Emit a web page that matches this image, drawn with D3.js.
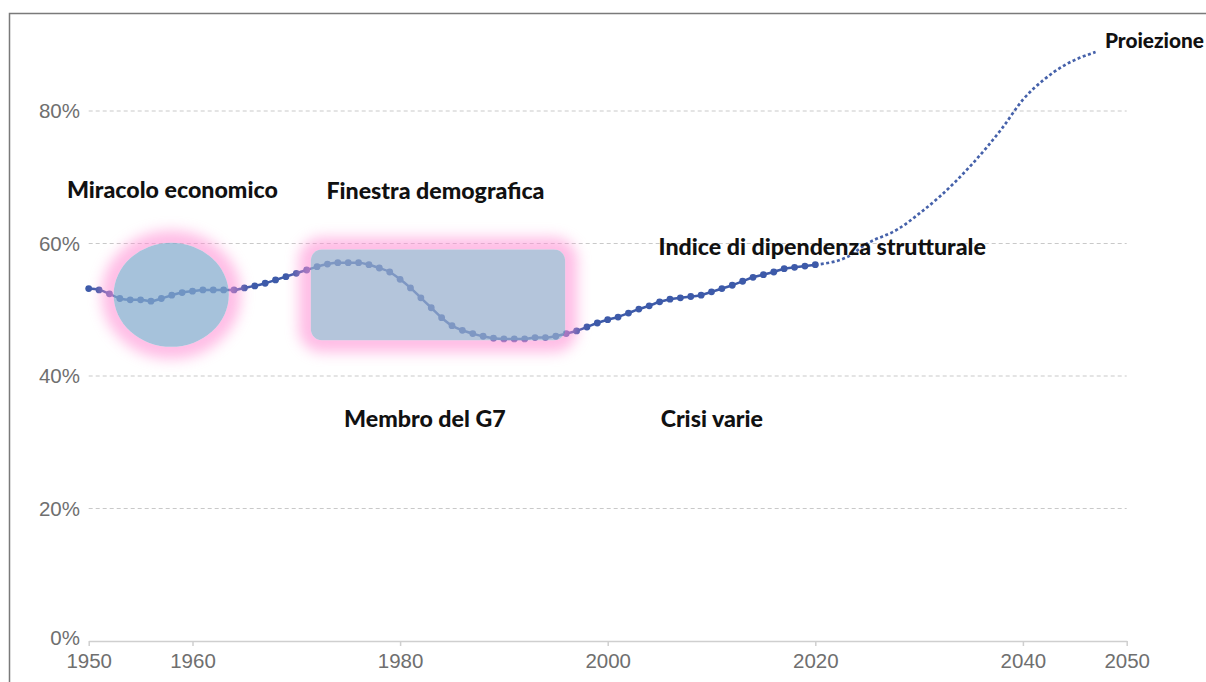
<!DOCTYPE html>
<html>
<head>
<meta charset="utf-8">
<script src="https://cdn.jsdelivr.net/npm/d3@7"></script>
<style>
  body { margin: 0; background: #fff; }
  svg { display: block; }
  .tick-label { font-family: "Liberation Sans", Arial, sans-serif; font-size: 20.5px; fill: #6f6f6f; }
  .note { font-family: Lato, "Open Sans", sans-serif; font-weight: 900; fill: #111; }
</style>
</head>
<body>
<div id="chart"></div>
<script>
// observed series, one value per year (percent)
var years = [1950, 1951, 1952, 1953, 1954, 1955, 1956, 1957, 1958, 1959,
        1960, 1961, 1962, 1963, 1964, 1965, 1966, 1967, 1968, 1969,
        1970, 1971, 1972, 1973, 1974, 1975, 1976, 1977, 1978, 1979,
        1980, 1981, 1982, 1983, 1984, 1985, 1986, 1987, 1988, 1989,
        1990, 1991, 1992, 1993, 1994, 1995, 1996, 1997, 1998, 1999,
        2000, 2001, 2002, 2003, 2004, 2005, 2006, 2007, 2008, 2009,
        2010, 2011, 2012, 2013, 2014, 2015, 2016, 2017, 2018, 2019, 2020];
var values = [53.2, 53.0, 52.4, 51.7, 51.5, 51.5, 51.3, 51.7, 52.2, 52.6,
        52.8, 53.0, 53.0, 53.0, 53.0, 53.3, 53.6, 54.0, 54.5, 55.0,
        55.5, 56.0, 56.5, 56.9, 57.1, 57.1, 57.1, 56.8, 56.3, 55.7,
        54.6, 53.3, 51.8, 50.3, 48.8, 47.6, 46.9, 46.4, 46.0, 45.7,
        45.6, 45.6, 45.6, 45.8, 45.8, 46.0, 46.4, 46.8, 47.4, 48.0,
        48.5, 48.9, 49.5, 50.1, 50.6, 51.2, 51.6, 51.8, 52.0, 52.2,
        52.7, 53.2, 53.7, 54.3, 54.9, 55.3, 55.7, 56.2, 56.4, 56.6, 56.8];

// projection (dotted)
var projYears = [2020, 2023, 2025, 2028, 2030, 2032, 2035, 2038, 2040, 2042, 2044, 2047];
var projValues = [56.8, 57.9, 60.0, 62.2, 64.5, 67.1, 71.8, 77.4, 81.7, 84.7, 86.9, 88.9];

// axis ticks
var xTicks = [1950, 1960, 1980, 2000, 2020, 2040, 2050];
var yTicks = [0, 20, 40, 60, 80];

// highlighted periods (years / percent extents)
var highlightNames = ['circle', 'rect'];
var highlightYears = [[1952.4, 1963.5], [1971.4, 1995.9]];
var highlightValues = [[44.4, 60.1], [45.4, 59.1]];

// annotations (anchor in years / percent)
var noteTexts = ['Miracolo economico', 'Finestra demografica', 'Indice di dipendenza strutturale',
        'Membro del G7', 'Crisi varie', 'Proiezione'];
var noteYears = [1947.9, 1972.9, 2004.9, 1974.6, 2005.1, 2047.9];
var noteValues = [66.8, 66.7, 58.3, 32.3, 32.3, 89.5];

var width = 1206, height = 682;
var svg = d3.select('#chart').append('svg')
        .attr('width', width)
        .attr('height', height);

var xscale = d3.scaleLinear().domain([1950, 2050]).range([88.7, 1126.7]);
var yscale = d3.scaleLinear().domain([0, 80]).range([641, 111]);

// frame (left + top)
svg.append('path')
        .attr('d', 'M9.5,' + height + 'V13.5H' + width)
        .attr('fill', 'none')
        .attr('stroke', '#7a7a7a')
        .attr('stroke-width', 1.5);

// y gridlines
svg.append('g')
        .selectAll('line')
        .data(yTicks.filter(function (d) { return d > 0; }))
        .enter().append('line')
        .attr('x1', xscale(1950)).attr('x2', xscale(2050))
        .attr('y1', function (d) { return yscale(d); })
        .attr('y2', function (d) { return yscale(d); })
        .attr('stroke', '#c9c9c9')
        .attr('stroke-dasharray', '4,3');

// y labels
svg.append('g')
        .selectAll('text')
        .data(yTicks)
        .enter().append('text')
        .attr('class', 'tick-label')
        .attr('x', 80)
        .attr('y', function (d) { return yscale(d); })
        .attr('dy', d => d === 0 ? '0.2em' : '0.35em')
        .attr('text-anchor', 'end')
        .text(function (d) { return d + '%'; });

// x axis
var xAxis = svg.append('g')
        .attr('transform', 'translate(0,' + yscale(0) + ')')
        .call(d3.axisBottom(xscale).tickValues(xTicks).tickFormat(d3.format('d')).tickSize(5).tickSizeOuter(0));
xAxis.select('.domain').attr('stroke', '#cfcfcf').attr('stroke-width', 1.5);
xAxis.selectAll('.tick line').attr('stroke', '#cfcfcf').attr('stroke-width', 1.5);
xAxis.selectAll('.tick text')
        .attr('class', 'tick-label')
        .attr('y', 12)
        .attr('dy', '0.71em');

// observed line + points
var series = years.map(function (y, i) { return { year: y, value: values[i] }; });
var proj = projYears.map(function (y, i) { return { year: y, value: projValues[i] }; });

var line = d3.line()
        .x(function (d) { return xscale(d.year); })
        .y(function (d) { return yscale(d.value); })
        .curve(d3.curveMonotoneX);

svg.append('path')
        .datum(proj)
        .attr('d', line)
        .attr('fill', 'none')
        .attr('stroke', '#4561aa')
        .attr('stroke-width', 2.7)
        .attr('stroke-dasharray', '3,2.5');

svg.append('path')
        .datum(series)
        .attr('d', line)
        .attr('fill', 'none')
        .attr('stroke', '#3d5aa9')
        .attr('stroke-width', 2.5);

svg.append('g')
        .selectAll('circle')
        .data(series)
        .enter().append('circle')
        .attr('cx', function (d) { return xscale(d.year); })
        .attr('cy', function (d) { return yscale(d.value); })
        .attr('r', 3.4)
        .attr('fill', '#3d5aa9');

// glow filter
var defs = svg.append('defs');
defs.append('filter')
        .attr('id', 'glow')
        .attr('x', '-50%').attr('y', '-50%')
        .attr('width', '200%').attr('height', '200%')
        .append('feGaussianBlur')
        .attr('stdDeviation', 7);

// highlighted shapes on top of the line
highlightNames.forEach(function (name, i) {
        var x0 = xscale(highlightYears[i][0]), x1 = xscale(highlightYears[i][1]);
        var y0 = yscale(highlightValues[i][1]), y1 = yscale(highlightValues[i][0]);
        var shape = function (sel) {
                if (name === 'circle') {
                        return sel.append('ellipse')
                                .attr('cx', (x0 + x1) / 2).attr('cy', (y0 + y1) / 2)
                                .attr('rx', (x1 - x0) / 2).attr('ry', (y1 - y0) / 2);
                }
                return sel.append('rect')
                        .attr('x', x0).attr('y', y0)
                        .attr('width', x1 - x0).attr('height', y1 - y0)
                        .attr('rx', 11).attr('ry', 11);
        };
        // mask so the pink halo stays outside the shape
        var mask = defs.append('mask').attr('id', 'out-' + name)
                .attr('maskUnits', 'userSpaceOnUse')
                .attr('x', 0).attr('y', 0).attr('width', width).attr('height', height);
        mask.append('rect').attr('width', width).attr('height', height).attr('fill', '#fff');
        shape(mask).attr('fill', '#000');

        svg.append('g')
                .attr('mask', 'url(#out-' + name + ')')
                .call(function (g) {
                        shape(g)
                                .attr('fill', 'none')
                                .attr('stroke', '#ff8fd4')
                                .attr('stroke-width', 24)
                                .attr('opacity', 0.6)
                                .attr('filter', 'url(#glow)');
                });
        shape(svg)
                .attr('fill', name === 'circle' ? '#84abcd' : '#97aecd')
                .attr('opacity', 0.72);
});

// annotations
svg.append('g')
        .selectAll('text')
        .data(noteTexts)
        .enter().append('text')
        .attr('class', 'note')
        .attr('x', function (d, i) { return xscale(noteYears[i]); })
        .attr('y', function (d, i) { return yscale(noteValues[i]); })
        .attr('font-size', function (d) { return d === 'Proiezione' ? 20.8 : 23.2; })
        .text(function (d) { return d; });
</script>
</body>
</html>
